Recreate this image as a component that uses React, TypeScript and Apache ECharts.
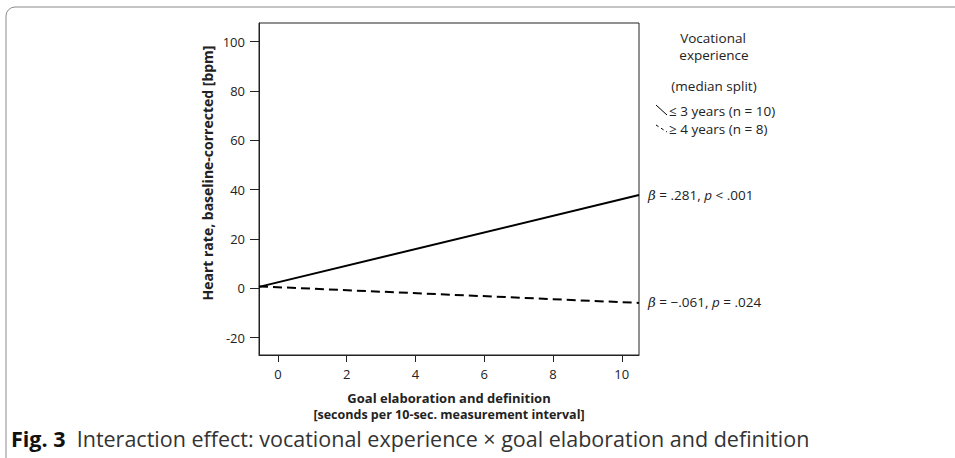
import React, { useEffect, useRef } from "react";
import * as echarts from "echarts";

const xEnds = [-0.55, 10.5];
const shortExperience = [0.6, 37.8];
const longExperience = [0.8, -5.9];
const xTicks = [0, 2, 4, 6, 8, 10];
const yTicks = [-20, 0, 20, 40, 60, 80, 100];
const legendLabels = ["\u2264 3 years (n = 10)", "\u2265 4 years (n = 8)"];

const FONT = "'Open Sans', 'Noto Sans', sans-serif";

export default function App() {
  const ref = useRef<HTMLDivElement>(null);
  useEffect(() => {
    const chart = echarts.init(ref.current!, null, { renderer: "svg" });
    const toPts = (vals: number[]) => xEnds.map((x, i) => [x, vals[i]]);
    const betaRich = {
      g: { fontStyle: "italic", fontFamily: "'DejaVu Serif', serif", fontSize: 13.5, fill: "#222" },
      i: { fontStyle: "italic", fontSize: 13.5, fill: "#222", fontFamily: FONT },
    };
    chart.setOption({
      animation: false,
      backgroundColor: "#fff",
      textStyle: { fontFamily: FONT },
      grid: {
        left: 259,
        right: 316,
        top: 23,
        bottom: 103,
        show: true,
        borderColor: "#222",
        borderWidth: 1,
      },
      xAxis: {
        type: "value",
        min: -0.55,
        max: 10.5,
        splitLine: { show: false },
        axisLine: { onZero: false, lineStyle: { color: "#222", width: 1 } },
        axisTick: { show: true, length: 7, customValues: xTicks, lineStyle: { color: "#222" } },
        axisLabel: { customValues: xTicks, color: "#222", fontSize: 13, fontFamily: FONT, margin: 12 },
      },
      yAxis: {
        type: "value",
        min: -27,
        max: 107.5,
        splitLine: { show: false },
        axisLine: { show: true, onZero: false, lineStyle: { color: "#222", width: 1 } },
        axisTick: { show: true, length: 9, customValues: yTicks, lineStyle: { color: "#222" } },
        axisLabel: { customValues: yTicks, color: "#222", fontSize: 13, fontFamily: FONT, margin: 14 },
      },
      series: [
        {
          type: "line",
          data: toPts(shortExperience),
          showSymbol: false,
          lineStyle: { color: "#000", width: 2 },
        },
        {
          type: "line",
          data: toPts(longExperience),
          showSymbol: false,
          lineStyle: { color: "#000", width: 2, type: [9, 5] },
        },
      ],
      graphic: [
        {
          type: "rect",
          shape: { x: 6, y: 7, width: 1000, height: 520, r: 9 },
          style: { fill: "none", stroke: "#8a8a8a", lineWidth: 1 },
          silent: true,
        },
        {
          type: "text",
          x: 207,
          y: 173,
          rotation: Math.PI / 2,
          style: {
            text: "Heart rate, baseline-corrected [bpm]",
            align: "center",
            verticalAlign: "middle",
            fontSize: 14,
            fontWeight: "bold",
            fill: "#222",
            fontFamily: FONT,
          },
        },
        {
          type: "text",
          x: 449,
          y: 398,
          style: {
            text: "Goal elaboration and definition",
            align: "center",
            verticalAlign: "middle",
            fontSize: 13,
            fontWeight: "bold",
            fill: "#222",
            fontFamily: FONT,
          },
        },
        {
          type: "text",
          x: 449,
          y: 414,
          style: {
            text: "[seconds per 10-sec. measurement interval]",
            align: "center",
            verticalAlign: "middle",
            fontSize: 12.5,
            fontWeight: "bold",
            fill: "#222",
            fontFamily: FONT,
          },
        },
        {
          type: "text",
          x: 713,
          y: 38,
          style: {
            text: "Vocational",
            align: "center",
            verticalAlign: "middle",
            fontSize: 13.5,
            fill: "#222",
            fontFamily: FONT,
          },
        },
        {
          type: "text",
          x: 714,
          y: 55,
          style: {
            text: "experience",
            align: "center",
            verticalAlign: "middle",
            fontSize: 13.5,
            fill: "#222",
            fontFamily: FONT,
          },
        },
        {
          type: "text",
          x: 714,
          y: 86,
          style: {
            text: "(median split)",
            align: "center",
            verticalAlign: "middle",
            fontSize: 13.5,
            fill: "#222",
            fontFamily: FONT,
          },
        },
        {
          type: "line",
          shape: { x1: 656, y1: 105, x2: 667, y2: 115 },
          style: { stroke: "#000", lineWidth: 1 },
        },
        {
          type: "line",
          shape: { x1: 656, y1: 125, x2: 667, y2: 132 },
          style: { stroke: "#000", lineWidth: 1, lineDash: [3, 3] },
        },
        {
          type: "text",
          x: 669,
          y: 111,
          style: { text: legendLabels[0], verticalAlign: "middle", fontSize: 13.5, fill: "#222", fontFamily: FONT },
        },
        {
          type: "text",
          x: 669,
          y: 129,
          style: { text: legendLabels[1], verticalAlign: "middle", fontSize: 13.5, fill: "#222", fontFamily: FONT },
        },
        {
          type: "text",
          x: 648,
          y: 195,
          style: {
            text: "{g|\u03b2} = .281, {i|p} < .001",
            verticalAlign: "middle",
            fontSize: 13.5,
            fill: "#222",
            fontFamily: FONT,
            rich: betaRich,
          },
        },
        {
          type: "text",
          x: 648,
          y: 302,
          style: {
            text: "{g|\u03b2} = \u2212.061, {i|p} = .024",
            verticalAlign: "middle",
            fontSize: 13.5,
            fill: "#222",
            fontFamily: FONT,
            rich: betaRich,
          },
        },
        {
          type: "text",
          x: 11,
          y: 438,
          style: {
            text: "{b|Fig. 3}  Interaction effect: vocational experience \u00d7 goal elaboration and definition",
            verticalAlign: "middle",
            fontSize: 21.5,
            fill: "#333",
            fontFamily: FONT,
            rich: {
              b: { fontWeight: "bold", fontSize: 21.5, fill: "#111", fontFamily: FONT },
            },
          },
        },
      ],
    });
    return () => chart.dispose();
  }, []);
  return (
    <div
      ref={ref}
      style={{ position: "absolute", left: 0, top: 0, width: 955, height: 458 }}
    />
  );
}
